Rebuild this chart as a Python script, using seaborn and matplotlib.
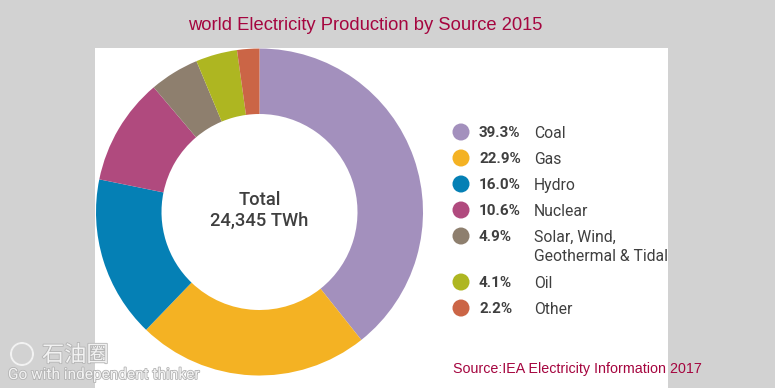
import numpy as np
import pandas as pd
import matplotlib
matplotlib.use("Agg")
import matplotlib.pyplot as plt
import matplotlib.patheffects as pe
import seaborn as sns

sources = ["Coal", "Gas", "Hydro", "Nuclear", "Solar, Wind,\nGeothermal & Tidal", "Oil", "Other"]
shares = [39.3, 22.9, 16.0, 10.6, 4.9, 4.1, 2.2]
colors = ["#a390bd", "#f4b223", "#0580b5", "#b04a7e", "#8e7f6e", "#aeb621", "#cb6546"]
title = "world Electricity Production by Source 2015"
center_text = "Total\n24,345 TWh"
source_text = "Source:IEA Electricity Information 2017"

W, H = 775, 388
GREY = "#d2d2d2"
TEXT = "#3f3f3f"
RED = "#a5053f"

sns.set_theme(style="white")
plt.rcParams["font.family"] = ["Roboto", "DejaVu Sans"]

fig = plt.figure(figsize=(W / 100, H / 100), dpi=100, facecolor=GREY)

# full figure axes in pixel units, for panel + text
bg = fig.add_axes([0, 0, 1, 1])
bg.set_xlim(0, W)
bg.set_ylim(H, 0)
bg.axis("off")
bg.axvspan(95, 668, ymin=0, ymax=1 - 48 / H, color="white", lw=0)

# donut
cx, cy, r = 259.5, 212, 163.5
pie_ax = fig.add_axes([(cx - r) / W, 1 - (cy + r) / H, 2 * r / W, 2 * r / H])
pie_ax.pie(shares, colors=colors, startangle=90, counterclock=False, radius=1,
           wedgeprops=dict(width=1 - 98 / r, linewidth=0))
pie_ax.set_xlim(-1, 1)
pie_ax.set_ylim(-1, 1)
pie_ax.text(0, 0.01, center_text, ha="center", va="center", fontsize=13.2,
            fontweight="medium", color=TEXT, linespacing=1.25)

# legend rows, a two line label pushes the next row down
lines = [s.count("\n") + 1 for s in sources]
row_h = 26
rows = 132 + row_h * np.concatenate([[0], np.cumsum([1 if n == 1 else 1.77 for n in lines])[:-1]])
legend = pd.DataFrame({"source": sources, "share": shares, "y": rows, "x": 461})
sns.scatterplot(data=legend, x="x", y="y", hue="source", palette=colors, s=150,
                linewidth=0, legend=False, ax=bg, zorder=3)
bg.set_xlim(0, W)
bg.set_ylim(H, 0)
bg.axis("off")
for _, row in legend.iterrows():
    bg.text(479, row["y"] + 1, f"{row['share']:.1f}%", va="center", ha="left", fontsize=11,
            fontweight="bold", color=TEXT)
    bg.text(534, row["y"] - 6, row["source"], va="top", ha="left", fontsize=11.3,
            color=TEXT, linespacing=1.3)

bg.text(365.5, 25.5, title, ha="center", va="center", fontsize=13.25, color=RED,
        family="Liberation Sans")
bg.text(577.5, 369, source_text, ha="center", va="center", fontsize=10.3, color=RED,
        family="Liberation Sans")

# watermark on top of everything
top = fig.add_axes([0, 0, 1, 1], zorder=5)
top.set_xlim(0, W)
top.set_ylim(H, 0)
top.axis("off")
top.patch.set_alpha(0)
mark = "#f2f2f2"
edge = [pe.withStroke(linewidth=1.2, foreground="#b4b4b4")]
top.add_patch(plt.Circle((22, 354), 11, fill=False, ec=mark, lw=1.5, path_effects=edge))
top.text(42, 355, "石油圈", family=["Noto Sans CJK SC", "DejaVu Sans"], fontsize=16,
         color=mark, va="center", ha="left", path_effects=edge)
top.text(8, 375, "Go with independent thinker", fontsize=11.1, color=mark, va="center", ha="left",
         path_effects=edge)

fig.savefig("out.png", dpi=100, facecolor=GREY)
